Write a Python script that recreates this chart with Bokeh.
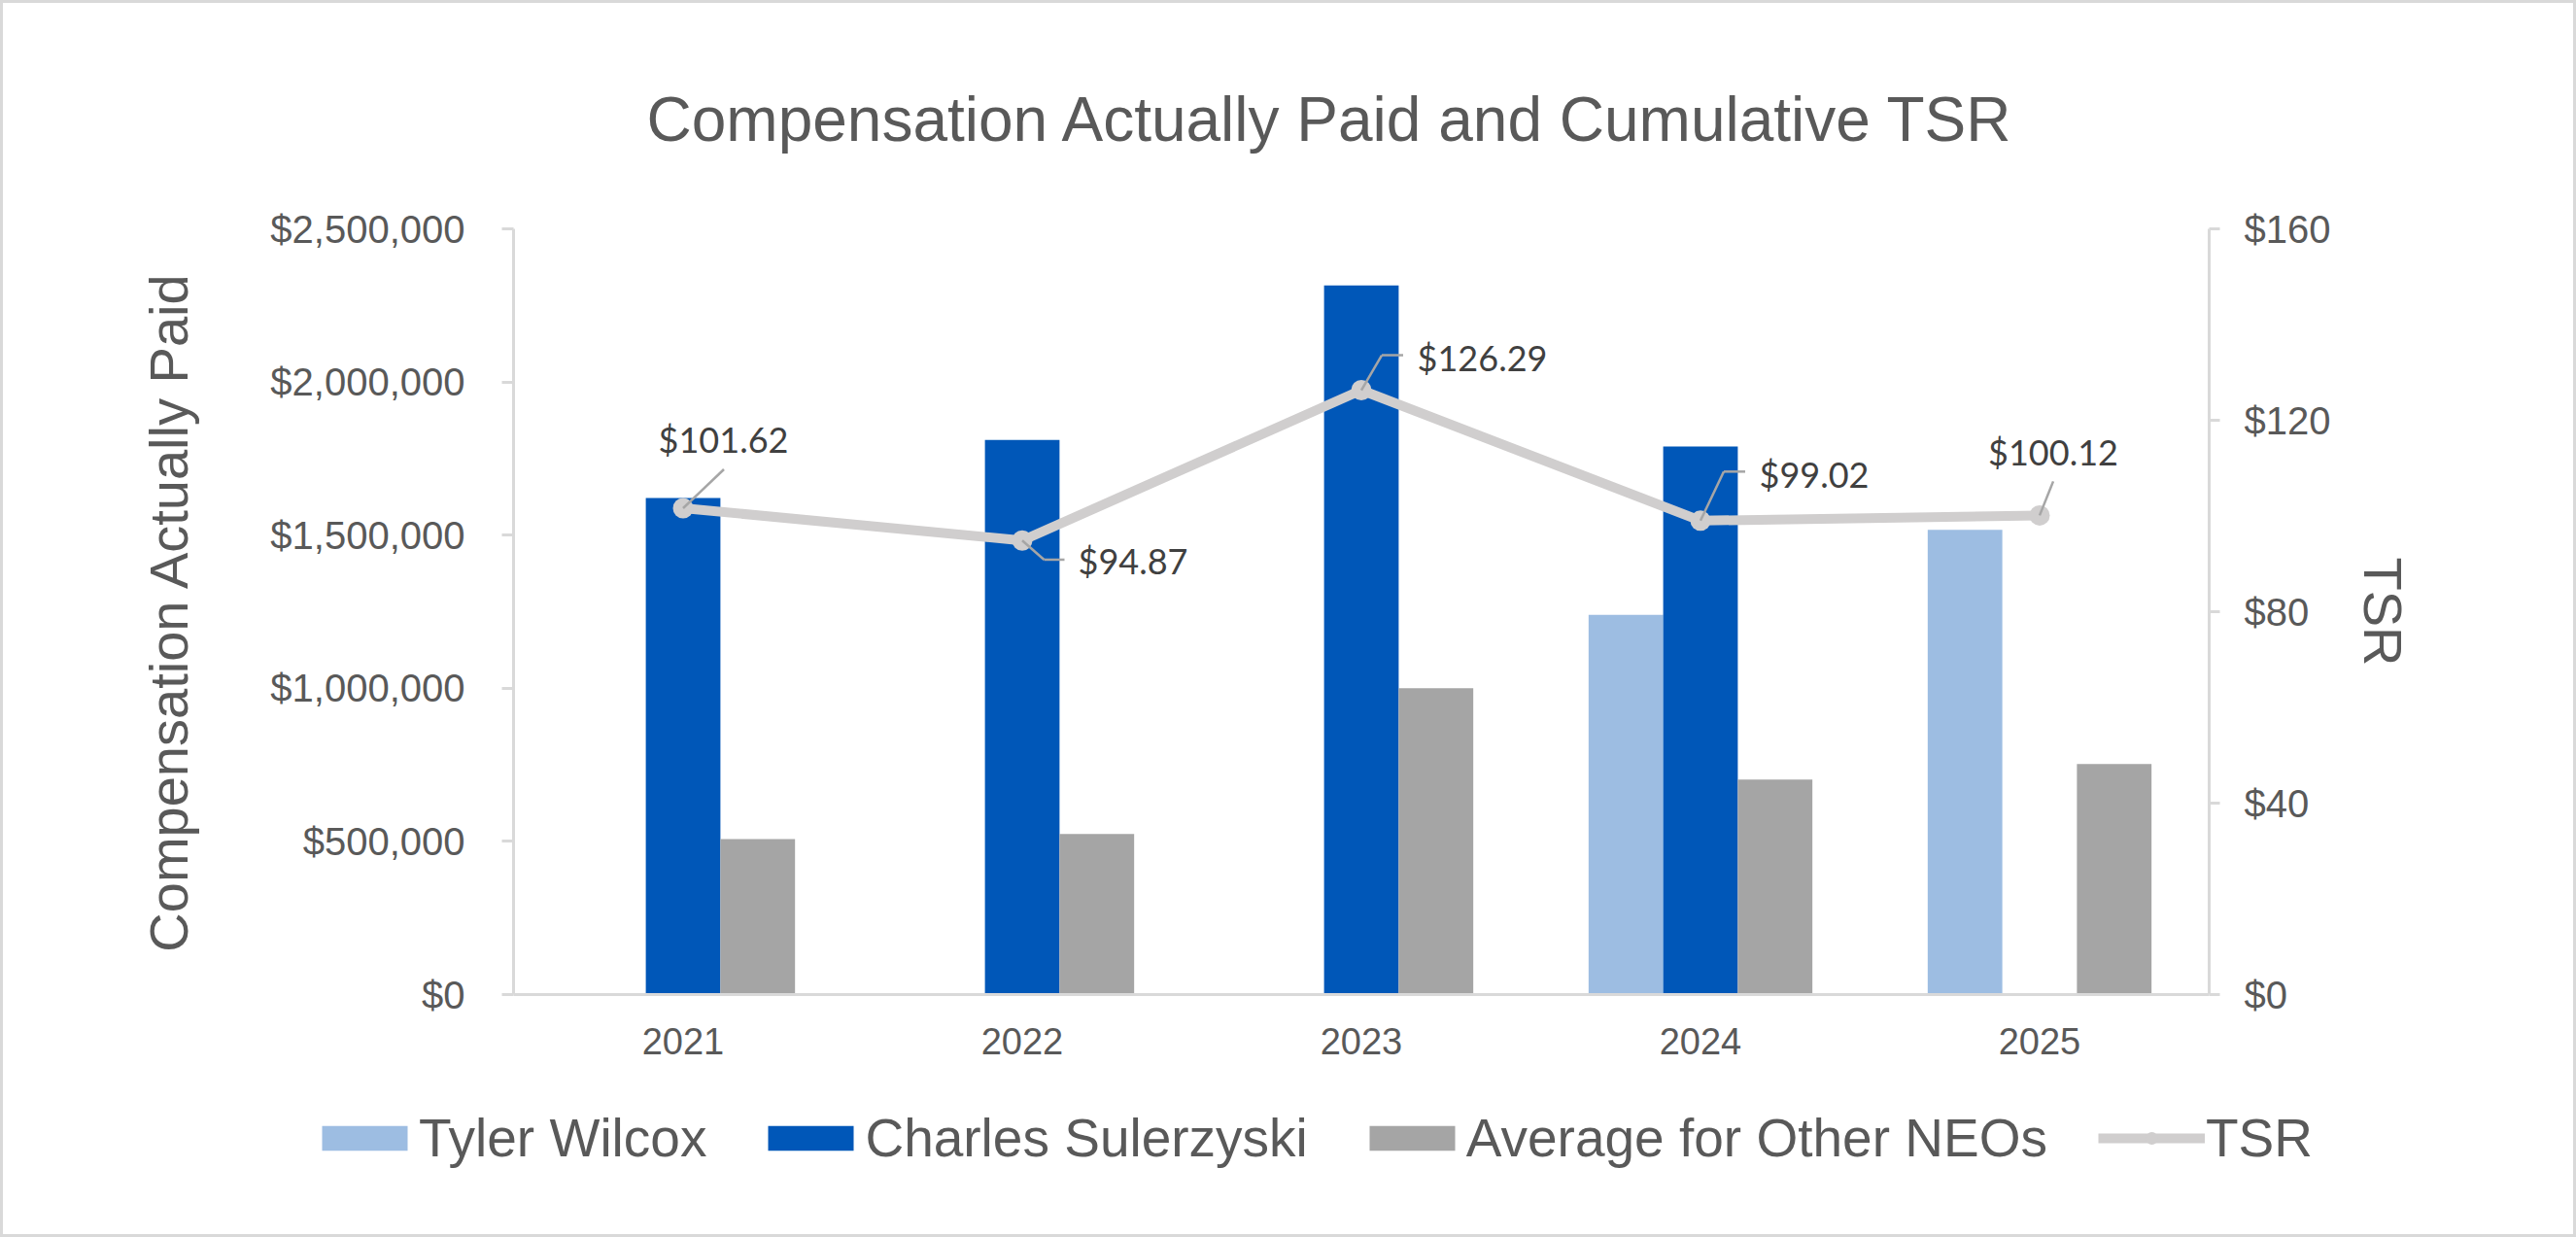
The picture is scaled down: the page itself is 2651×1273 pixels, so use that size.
import numpy as np
from bokeh.plotting import figure
from bokeh.layouts import column
from bokeh.models import (Range1d, FactorRange, LinearAxis, FixedTicker,
                          NumeralTickFormatter, ColumnDataSource, Legend, LegendItem)
from bokeh.transform import dodge
from bokeh.core.properties import value
from bokeh.embed import file_html
from bokeh.resources import INLINE

# ---- data -------------------------------------------------------------
years = ["2021", "2022", "2023", "2024", "2025"]
tyler_wilcox = [np.nan, np.nan, np.nan, 1240000, 1517000]
charles_sulerzyski = [1621000, 1811000, 2315000, 1789000, np.nan]
avg_other_neos = [508000, 524000, 1000000, 702000, 753000]
tsr = [101.62, 94.87, 126.29, 99.02, 100.12]

comp_ticks = [0, 500000, 1000000, 1500000, 2000000, 2500000]
tsr_ticks = [0, 40, 80, 120, 160]
series_names = ["Tyler Wilcox", "Charles Sulerzyski", "Average for Other NEOs", "TSR"]

# ---- styling ----------------------------------------------------------
C_TYLER = "#9DBDE2"
C_CHARLES = "#0057B8"
C_AVG = "#A5A5A5"
C_TSR = "#D0CECE"
C_TEXT = "#595959"
C_AXIS = "#D9D9D9"
SANS = "Liberation Sans"

W = 2645
H_CHART, H_LEGEND = 1110, 157
LEFT, RIGHT, TOP, BOTTOM = 525, 375, 232, 90
FRAME_W = W - LEFT - RIGHT
FRAME_H = H_CHART - TOP - BOTTOM
PX_PER_CAT = FRAME_W / len(years)
PX_PER_TSR = FRAME_H / tsr_ticks[-1]
BAR_W = 0.22

# label placement around each TSR point (screen px, y down)
label_offsets = [(41.5, -70.7), (114, 21), (124.5, -34), (117, -48), (14, -65.5)]
# leader line paths from each TSR point toward its label (screen px, y down)
leader_paths = [
    [(0, 0), (42, -40)],
    [(0, 0), (22.5, 19.7), (43.5, 19.7)],
    [(0, 0), (21, -36), (43, -36)],
    [(0, 0), (24, -50.5), (46, -50.5)],
    [(0, 0), (14, -35)],
]

src = ColumnDataSource(dict(
    year=years,
    tyler=np.array(tyler_wilcox, dtype=float),
    charles=np.array(charles_sulerzyski, dtype=float),
    avg=np.array(avg_other_neos, dtype=float),
    tsr=tsr,
    tsr_label=[f"${v:.2f}" for v in tsr],
    lx=[o[0] for o in label_offsets],
    ly=[o[1] for o in label_offsets],
))

# leader segments in (factor, offset) / TSR coordinates
seg = dict(x0=[], y0=[], x1=[], y1=[])
for yr, v, path in zip(years, tsr, leader_paths):
    for (ax, ay), (bx, by) in zip(path[:-1], path[1:]):
        seg["x0"].append((yr, ax / PX_PER_CAT))
        seg["x1"].append((yr, bx / PX_PER_CAT))
        seg["y0"].append(v - ay / PX_PER_TSR)
        seg["y1"].append(v - by / PX_PER_TSR)
seg_src = ColumnDataSource(seg)

p = figure(
    width=W, height=H_CHART,
    x_range=FactorRange(*years),
    y_range=Range1d(comp_ticks[0], comp_ticks[-1]),
    output_backend="svg", toolbar_location=None,
    min_border_left=LEFT, min_border_right=RIGHT,
    min_border_top=TOP, min_border_bottom=BOTTOM,
    title="Compensation Actually Paid and Cumulative TSR",
)
p.extra_y_ranges = {"tsr": Range1d(tsr_ticks[0], tsr_ticks[-1])}
p.outline_line_color = None
p.xgrid.grid_line_color = None
p.ygrid.grid_line_color = None
p.background_fill_color = "white"
p.border_fill_color = "white"

# title
p.title.text_font = SANS
p.title.text_font_size = "64px"
p.title.text_font_style = "normal"
p.title.text_color = C_TEXT
p.title.align = "left"
p.title.offset = 137
p.title.standoff = 153

# bars
bar_style = dict(width=BAR_W, line_color=None)
p.vbar(x=dodge("year", -BAR_W, range=p.x_range), top="tyler", source=src,
       fill_color=C_TYLER, **bar_style)
p.vbar(x=dodge("year", 0.0, range=p.x_range), top="charles", source=src,
       fill_color=C_CHARLES, **bar_style)
p.vbar(x=dodge("year", BAR_W, range=p.x_range), top="avg", source=src,
       fill_color=C_AVG, **bar_style)

# TSR line on the secondary axis
line_style = dict(line_color=C_TSR, line_width=10, line_join="round")
dot_style = dict(marker="circle", size=21, fill_color=C_TSR, line_color=None)
p.line(x="year", y="tsr", source=src, y_range_name="tsr", **line_style)
p.scatter(x="year", y="tsr", source=src, y_range_name="tsr", **dot_style)
p.segment(x0="x0", y0="y0", x1="x1", y1="y1", source=seg_src, y_range_name="tsr",
          line_color="#A6A6A6", line_width=2.5)
p.text(x="year", y="tsr", text="tsr_label", source=src, y_range_name="tsr",
       x_offset="lx", y_offset="ly", text_font=value("Lato"), text_font_size="36px",
       text_color="#404040", text_align="center", text_baseline="middle")

# axes
xa = p.xaxis[0]
xa.axis_line_color = C_AXIS
xa.axis_line_width = 3
xa.major_tick_line_color = None
xa.minor_tick_line_color = None
xa.major_label_standoff = 28
xa.major_label_text_font = SANS
xa.major_label_text_font_size = "38px"
xa.major_label_text_color = C_TEXT

ya = p.yaxis[0]
ya.ticker = FixedTicker(ticks=comp_ticks)
ya.formatter = NumeralTickFormatter(format="$0,0")
ya.axis_label = "Compensation Actually Paid"
ya.axis_line_color = C_AXIS
ya.axis_line_width = 3
ya.major_tick_line_color = C_AXIS
ya.major_tick_line_width = 3
ya.major_tick_out = 12
ya.major_tick_in = 0
ya.minor_tick_line_color = None
ya.major_label_standoff = 38
ya.major_label_text_font = SANS
ya.major_label_text_font_size = "40px"
ya.major_label_text_color = C_TEXT
ya.axis_label_text_font = SANS
ya.axis_label_text_font_size = "56px"
ya.axis_label_text_font_style = "normal"
ya.axis_label_text_color = C_TEXT
ya.axis_label_standoff = 70

ra = LinearAxis(y_range_name="tsr", ticker=FixedTicker(ticks=tsr_ticks),
                formatter=NumeralTickFormatter(format="$0"), axis_label="TSR")
ra.axis_line_color = C_AXIS
ra.axis_line_width = 3
ra.major_tick_line_color = C_AXIS
ra.major_tick_line_width = 3
ra.major_tick_out = 11
ra.major_tick_in = 0
ra.minor_tick_line_color = None
ra.major_label_standoff = 25
ra.major_label_text_font = SANS
ra.major_label_text_font_size = "40px"
ra.major_label_text_color = C_TEXT
ra.axis_label_text_font = SANS
ra.axis_label_text_font_size = "56px"
ra.axis_label_text_font_style = "normal"
ra.axis_label_text_color = C_TEXT
ra.axis_label_standoff = 20
p.add_layout(ra, "right")

# ---- legend strip under the chart -------------------------------------
# full-width frame, not aligned with the chart frame above
lg = figure(width=W, height=H_LEGEND, x_range=Range1d(0, 1), y_range=Range1d(0, 1),
            output_backend="svg", toolbar_location=None,
            x_axis_location=None, y_axis_location=None,
            min_border_left=0, min_border_right=0,
            min_border_top=0, min_border_bottom=0)
lg.frame_align = False
lg.outline_line_color = None
lg.grid.grid_line_color = None
lg.background_fill_color = "white"
lg.border_fill_color = "white"

# swatch renderers for the legend, kept outside the strip's visible range
swatch = ColumnDataSource(dict(x=[-5.0], y=[-5.0]))
k_t = lg.vbar(x="x", top="y", source=swatch, fill_color=C_TYLER, **bar_style)
k_c = lg.vbar(x="x", top="y", source=swatch, fill_color=C_CHARLES, **bar_style)
k_a = lg.vbar(x="x", top="y", source=swatch, fill_color=C_AVG, **bar_style)
k_l = lg.line(x="x", y="y", source=swatch, **line_style)
k_p = lg.scatter(x="x", y="y", source=swatch, **dot_style)

legend = Legend(
    items=[
        LegendItem(label=series_names[0], renderers=[k_t]),
        LegendItem(label=series_names[1], renderers=[k_c]),
        LegendItem(label=series_names[2], renderers=[k_a]),
        LegendItem(label=series_names[3], renderers=[k_l, k_p]),
    ],
    orientation="horizontal",
    location=(317, 67),
    glyph_width=110, glyph_height=32,
    label_standoff=1, spacing=52, padding=0, margin=0,
    label_text_font=SANS, label_text_font_size="55px", label_text_color=C_TEXT,
    border_line_color=None, background_fill_alpha=0,
)
lg.add_layout(legend, "center")

layout = column(p, lg, spacing=0)
layout.styles = {"border": f"3px solid {C_AXIS}", "background-color": "white"}

open("out.html", "w").write(file_html(layout, INLINE))
